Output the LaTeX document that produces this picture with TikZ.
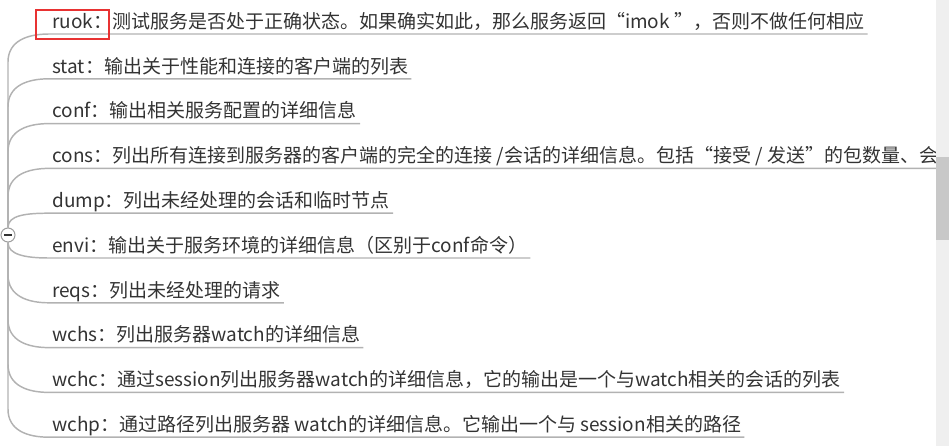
\documentclass[tikz,border=0pt]{standalone}
\usepackage{fontspec}
\setmainfont{Noto Sans CJK SC}
\usepackage{tikz}
\usetikzlibrary{positioning,backgrounds}
\definecolor{textgray}{RGB}{51,51,51}
\definecolor{branchgray}{RGB}{178,178,178}
\definecolor{markred}{RGB}{232,50,50}
\definecolor{scrolltrack}{RGB}{239,239,239}
\definecolor{scrollthumb}{RGB}{200,200,200}

\begin{document}
\begin{tikzpicture}[
      x=0.75pt, y=-0.75pt, node distance=33.6pt,
      font=\fontsize{14.25pt}{17pt}\selectfont,
      item/.style={anchor=south west, text=textgray, inner xsep=2.25pt,
                   inner ysep=0pt, text height=12pt, text depth=4.1pt},
      branch/.style={draw=branchgray, line width=1.1pt},
      toggle/.style={circle, draw=gray!75, fill=white, line width=0.8pt,
                     minimum size=10.5pt, inner sep=0pt},
    ]
    \useasboundingbox (0,0) rectangle (949,446);

    % collapse button
    \node[toggle] (tog) at (8,235) {};
    \draw[textgray, line width=0.8pt] ([xshift=-3pt]tog.center) -- ([xshift=3pt]tog.center);

    % commands
    \node[item] (ruok) at (49,34)
      {ruok：测试服务是否处于正确状态。如果确实如此，那么服务返回“imok ”，否则不做任何相应};
    \node[item, below=of ruok.south west, anchor=south west] (stat)
      {stat：输出关于性能和连接的客户端的列表};
    \node[item, below=of stat.south west, anchor=south west] (conf)
      {conf：输出相关服务配置的详细信息};
    \node[item, below=of conf.south west, anchor=south west] (cons)
      {cons：列出所有连接到服务器的客户端的完全的连接 /会话的详细信息。包括“接受 / 发送”的包数量、会};
    \node[item, below=of cons.south west, anchor=south west] (dump)
      {dump：列出未经处理的会话和临时节点};
    \node[item, below=of dump.south west, anchor=south west] (envi)
      {envi：输出关于服务环境的详细信息（区别于conf命令）};
    \node[item, below=of envi.south west, anchor=south west] (reqs)
      {reqs：列出未经处理的请求};
    \node[item, below=of reqs.south west, anchor=south west] (wchs)
      {wchs：列出服务器watch的详细信息};
    \node[item, below=of wchs.south west, anchor=south west] (wchc)
      {wchc：通过session列出服务器watch的详细信息，它的输出是一个与watch相关的会话的列表};
    \node[item, below=of wchc.south west, anchor=south west] (wchp)
      {wchp：通过路径列出服务器 watch的详细信息。它输出一个与 session相关的路径};

    % branches with underlines
    \begin{scope}[on background layer]
      \draw[branch] (tog.north) -- ([yshift=-21pt]tog.north |- ruok.south)
        .. controls +(0,16pt) and +(-16pt,0) .. (ruok.south west) -- (ruok.south east);
      \draw[branch] (tog.north) -- ([yshift=-21pt]tog.north |- stat.south)
        .. controls +(0,16pt) and +(-16pt,0) .. (stat.south west) -- (stat.south east);
      \draw[branch] (tog.north) -- ([yshift=-21pt]tog.north |- conf.south)
        .. controls +(0,16pt) and +(-16pt,0) .. (conf.south west) -- (conf.south east);
      \draw[branch] (tog.north) -- ([yshift=-21pt]tog.north |- cons.south)
        .. controls +(0,16pt) and +(-16pt,0) .. (cons.south west) -- (cons.south east);
      \draw[branch] (tog.north)
        .. controls +(0,9pt) and +(-18pt,0) .. (dump.south west) -- (dump.south east);
      \draw[branch] (tog.south)
        .. controls +(0,-9pt) and +(-18pt,0) .. (envi.south west) -- (envi.south east);
      \draw[branch] (tog.south) -- ([yshift=21pt]tog.south |- reqs.south)
        .. controls +(0,-16pt) and +(-16pt,0) .. (reqs.south west) -- (reqs.south east);
      \draw[branch] (tog.south) -- ([yshift=21pt]tog.south |- wchs.south)
        .. controls +(0,-16pt) and +(-16pt,0) .. (wchs.south west) -- (wchs.south east);
      \draw[branch] (tog.south) -- ([yshift=21pt]tog.south |- wchc.south)
        .. controls +(0,-16pt) and +(-16pt,0) .. (wchc.south west) -- (wchc.south east);
      \draw[branch] (tog.south) -- ([yshift=21pt]tog.south |- wchp.south)
        .. controls +(0,-16pt) and +(-16pt,0) .. (wchp.south west) -- (wchp.south east);
    \end{scope}

    % highlight around the first command
    \draw[markred, line width=1.5pt] (36,10) rectangle (109,39);

    % scroll bar
    \fill[scrolltrack] (936,0) rectangle (949,446);
    \fill[scrollthumb] (936,157) rectangle (949,240);
  \end{tikzpicture}
\end{document}
